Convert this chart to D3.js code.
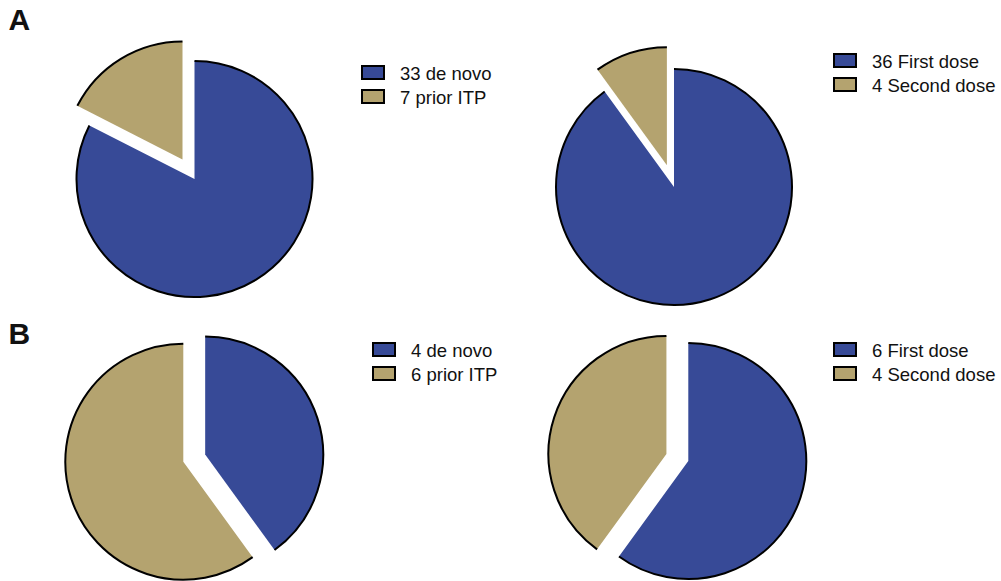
<!DOCTYPE html>
<html>
<head>
<meta charset="utf-8">
<script src="https://cdn.jsdelivr.net/npm/d3@7"></script>
<style>
  html, body { margin: 0; padding: 0; background: #fff; }
  svg { display: block; }
  text { font-family: "Liberation Sans", Arial, sans-serif; fill: #111; }
</style>
</head>
<body>
<svg id="chart" width="1001" height="581"></svg>
<script>
// Patient counts by origin of ITP and by vaccine dose
const panelLabels = ["A", "B"];
const originCategories = ["de novo", "prior ITP"];
const doseCategories = ["First dose", "Second dose"];
const originA = [33, 7];
const doseA = [36, 4];
const originB = [4, 6];
const doseB = [6, 4];

const colors = ["#374a97", "#b4a36f"];
const radius = 118;
const explode = 23;

const pies = [
  { values: originA, cats: originCategories, cx: 194.5, cy: 179, lx: 361, ly: 65 },
  { values: doseA, cats: doseCategories, cx: 674, cy: 187, lx: 833, ly: 53 },
  { values: originB, cats: originCategories, cx: 183.3, cy: 461.7, lx: 372, ly: 342 },
  { values: doseB, cats: doseCategories, cx: 688.3, cy: 461, lx: 833, ly: 342 }
];

const svg = d3.select("#chart");
const pie = d3.pie().sort(null).value(d => d);
const fillArc = d3.arc().innerRadius(0).outerRadius(radius);
const rimArc = d3.arc().innerRadius(radius).outerRadius(radius);

pies.forEach(p => {
  const arcs = pie(p.values);
  const minIdx = p.values[0] <= p.values[1] ? 0 : 1;
  const g = svg.append("g").attr("transform", `translate(${p.cx},${p.cy})`);

  // The smaller slice is pulled out along its bisector
  const slice = g.selectAll("g.slice")
    .data(arcs)
    .join("g")
    .attr("class", "slice")
    .attr("transform", (d, i) => {
      if (i !== minIdx) return null;
      const mid = (d.startAngle + d.endAngle) / 2;
      return `translate(${Math.sin(mid) * explode},${-Math.cos(mid) * explode})`;
    });

  slice.append("path")
    .attr("d", fillArc)
    .attr("fill", (d, i) => colors[i]);

  // Outline only on the outer rim
  slice.append("path")
    .attr("d", rimArc)
    .attr("fill", "none")
    .attr("stroke", "#000")
    .attr("stroke-width", 2);

  // Legend
  const leg = svg.append("g").attr("transform", `translate(${p.lx},${p.ly})`);
  const rows = leg.selectAll("g")
    .data(p.values)
    .join("g")
    .attr("transform", (d, i) => `translate(0,${i * 24})`);
  rows.append("rect")
    .attr("x", 1).attr("y", 1)
    .attr("width", 22).attr("height", 13)
    .attr("fill", (d, i) => colors[i])
    .attr("stroke", "#000")
    .attr("stroke-width", 2);
  rows.append("text")
    .attr("x", 39)
    .attr("y", 15)
    .attr("font-size", 18.5)
    .text((d, i) => `${d} ${p.cats[i]}`);
});

// Panel letters
svg.selectAll("text.panel")
  .data(panelLabels)
  .join("text")
  .attr("class", "panel")
  .attr("x", 8.5)
  .attr("y", (d, i) => i === 0 ? 29.5 : 344)
  .attr("font-size", 30)
  .attr("font-weight", "bold")
  .text(d => d);
</script>
</body>
</html>
